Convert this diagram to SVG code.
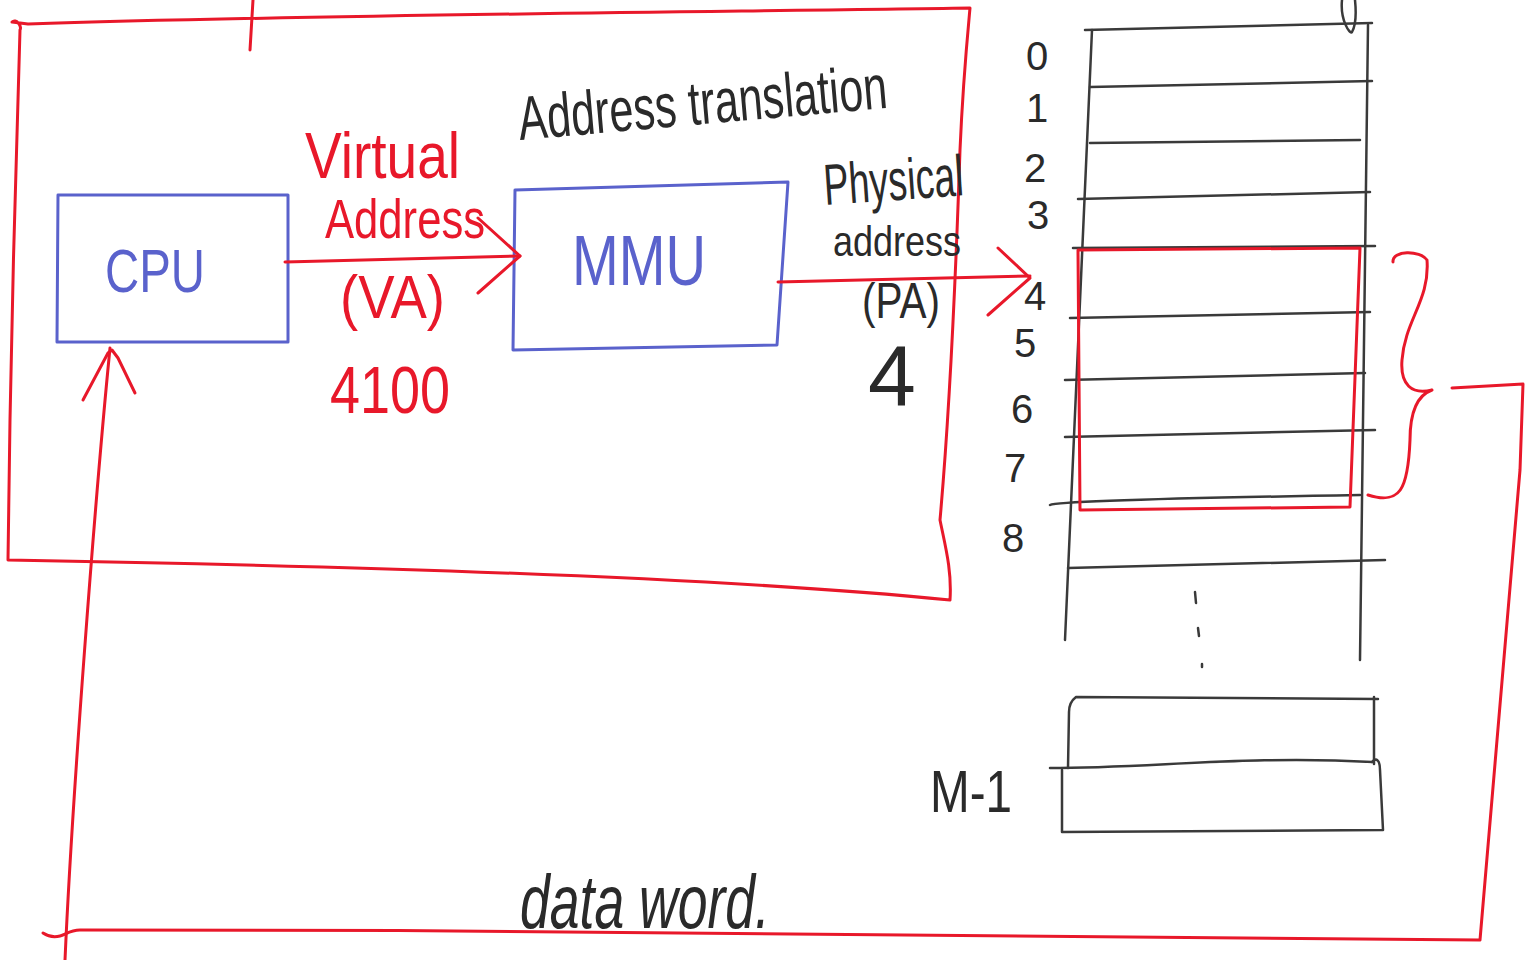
<svg xmlns="http://www.w3.org/2000/svg" width="1533" height="960" viewBox="0 0 1533 960">
<style>
.red{fill:none;stroke:#e8182a;stroke-width:3;stroke-linecap:round;stroke-linejoin:round}
.blue{fill:none;stroke:#5a62cc;stroke-width:3;stroke-linecap:round;stroke-linejoin:round}
.ink{fill:none;stroke:#3a3a3a;stroke-width:2.5;stroke-linecap:round;stroke-linejoin:round}
.tr{fill:#e8182a;font-family:"Liberation Sans",sans-serif}
.tb{fill:#5a62cc;font-family:"Liberation Sans",sans-serif}
.tk{fill:#2a2a2a;font-family:"Liberation Sans",sans-serif}
.num{fill:#2a2a2a;font-family:"Liberation Sans",sans-serif;font-size:40px;text-anchor:middle}
</style>
<rect width="1533" height="960" fill="#ffffff"/>

<g id="cpu-chip">
<path class="red" d="M12,22 C16,18 22,26 20,30 C18,80 12,300 10,420 C9,480 8,530 8,560 C300,565 700,575 950,600 C952,570 945,545 940,520 C948,430 955,300 960,150 C963,80 968,30 970,8 C700,12 300,15 28,24 Z"/>
<path class="red" d="M253,0 L250,50"/>
</g>

<g id="cpu">
<path class="blue" d="M58,195 L288,195 L288,342 L57,342 L58,195"/>
<text class="tb" x="155" y="292" font-size="62" text-anchor="middle" textLength="100" lengthAdjust="spacingAndGlyphs">CPU</text>
</g>

<g id="mmu">
<path class="blue" d="M515,190 L788,182 L777,345 L513,350 L515,190"/>
<text class="tb" x="639" y="285" font-size="70" text-anchor="middle" textLength="134" lengthAdjust="spacingAndGlyphs">MMU</text>
</g>

<g id="labels">
<text class="tr" x="305" y="178" font-size="64" textLength="155" lengthAdjust="spacingAndGlyphs">Virtual</text>
<text class="tr" x="325" y="238" font-size="56" textLength="160" lengthAdjust="spacingAndGlyphs">Address</text>
<text class="tr" x="340" y="318" font-size="62" textLength="105" lengthAdjust="spacingAndGlyphs">(VA)</text>
<text class="tr" x="330" y="413" font-size="66" textLength="120" lengthAdjust="spacingAndGlyphs">4100</text>
<text class="tk" x="0" y="0" font-size="62" textLength="370" lengthAdjust="spacingAndGlyphs" transform="translate(520,140) rotate(-5)">Address translation</text>
<text class="tk" x="0" y="0" font-size="58" textLength="140" lengthAdjust="spacingAndGlyphs" transform="translate(825,205) rotate(-4)">Physical</text>
<text class="tk" x="833" y="256" font-size="42" textLength="128" lengthAdjust="spacingAndGlyphs">address</text>
<text class="tk" x="862" y="318" font-size="50" textLength="78" lengthAdjust="spacingAndGlyphs">(PA)</text>
<text class="tk" x="892" y="405" font-size="86" text-anchor="middle">4</text>
<text class="tk" x="930" y="812" font-size="60" textLength="82" lengthAdjust="spacingAndGlyphs">M-1</text>
<text class="tk" x="520" y="928" font-size="76" font-style="italic" textLength="250" lengthAdjust="spacingAndGlyphs">data word.</text>
</g>

<g id="memory">
<path class="ink" d="M1092,30 L1065,640"/>
<path class="ink" d="M1368,25 L1360,660"/>
<path class="ink" d="M1085,30 L1372,23"/>
<path class="ink" d="M1090,87 L1372,81"/>
<path class="ink" d="M1090,143 L1360,140"/>
<path class="ink" d="M1078,199 L1370,192"/>
<path class="ink" d="M1073,248 L1375,246"/>
<path class="ink" d="M1070,318 L1370,312"/>
<path class="ink" d="M1065,380 L1365,373"/>
<path class="ink" d="M1065,437 L1375,430"/>
<path class="ink" d="M1050,505 C1060,500 1300,496 1360,495"/>
<path class="ink" d="M1068,568 L1385,560"/>
<path class="ink" d="M1342,0 C1340,20 1350,35 1352,32 C1356,25 1356,10 1355,0"/>
<path class="ink" d="M1195,592 L1196,603 M1198,628 L1199,636 M1202,664 L1202,667"/>
<path class="ink" d="M1068,768 L1069,712 C1069,705 1072,700 1076,697 L1378,699 M1374,697 L1374,764"/>
<path class="ink" d="M1050,768 C1150,768 1250,755 1372,762"/>
<path class="ink" d="M1062,770 L1062,832 L1383,830 L1380,770 C1380,760 1376,757 1372,762"/>
<text class="num" x="1037" y="70">0</text>
<text class="num" x="1037" y="122">1</text>
<text class="num" x="1035" y="182">2</text>
<text class="num" x="1038" y="229">3</text>
<text class="num" x="1035" y="310">4</text>
<text class="num" x="1025" y="357">5</text>
<text class="num" x="1022" y="423">6</text>
<text class="num" x="1015" y="482">7</text>
<text class="num" x="1013" y="552">8</text>
</g>

<g id="selected-block">
<path class="red" d="M1078,250 L1360,248 L1350,507 L1080,510 Z"/>
<path class="red" d="M1393,262 C1392,250 1420,250 1427,260 C1430,300 1405,320 1402,360 C1400,385 1412,395 1432,390 C1418,395 1410,410 1410,440 C1408,490 1400,505 1368,495"/>
</g>

<g id="connectors">
<path class="red" d="M285,262 L520,256"/>
<path class="red" d="M478,218 L520,256 L478,293"/>
<path class="red" d="M778,282 L1030,276"/>
<path class="red" d="M998,248 L1030,278 L988,315"/>
<path class="red" d="M1452,388 L1523,384 L1520,470 L1480,940 C1200,935 600,930 80,930 C70,930 65,935 60,936 C52,938 46,935 43,933"/>
<path class="red" d="M65,960 C72,800 95,500 110,348"/>
<path class="red" d="M83,400 L108,353 L112,350 L118,358 L135,393"/>
</g>
</svg>
